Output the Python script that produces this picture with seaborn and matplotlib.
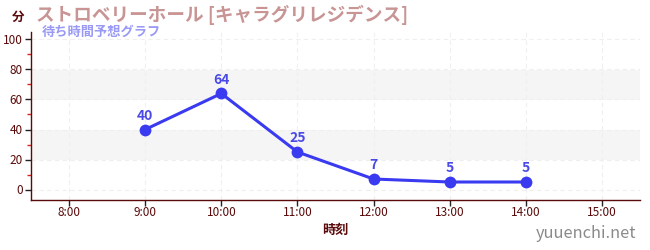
import matplotlib
matplotlib.use("Agg")
import matplotlib.pyplot as plt
import seaborn as sns
import pandas as pd
from matplotlib.ticker import MultipleLocator

hours = [9, 10, 11, 12, 13, 14]
waits = [40, 64, 25, 7, 5, 5]
xtick_hours = [8, 9, 10, 11, 12, 13, 14, 15]
xtick_labels = ["8:00", "9:00", "10:00", "11:00", "12:00", "13:00", "14:00", "15:00"]
yticks = [0, 20, 40, 60, 80, 100]
title = "ストロベリーホール [キャラグリレジデンス]"
subtitle = "待ち時間予想グラフ"

sns.set_theme(style="white")
plt.rcParams['font.family'] = ['Noto Sans CJK JP', 'DejaVu Sans']

df = pd.DataFrame({"hour": hours, "wait": waits})

fig = plt.figure(figsize=(6.5, 2.5), dpi=100)
ax = fig.add_axes([31/650, 50/250, 609/650, 168/250])

axc = "#5a0a0a"
line_c = "#3a3af0"

for lo, hi in [(20, 40), (60, 80)]:
    ax.axhspan(lo, hi, color="#f5f5f5", zorder=0, lw=0)

sns.lineplot(data=df, x="hour", y="wait", ax=ax, color=line_c, lw=2.2,
             marker="o", markersize=8.5, markeredgewidth=0, zorder=3)
for h, w in zip(hours, waits):
    ax.annotate(str(w), (h, w), xytext=(0, 5), textcoords="offset points",
                ha="center", va="bottom", color="#4a4ae8", fontsize=10, fontweight="bold")

ax.set_xlim(7.5, 15.5)
ax.set_ylim(-7, 105)
ax.set_xticks(xtick_hours)
ax.set_xticklabels(xtick_labels)
ax.set_yticks(yticks)
ax.yaxis.set_minor_locator(MultipleLocator(10))
ax.grid(True, which="major", color="#efefef", ls=(0, (4, 3)), lw=0.8)
ax.set_axisbelow(True)

for s in ["top", "right"]:
    ax.spines[s].set_visible(False)
for s in ["left", "bottom"]:
    ax.spines[s].set_color(axc)
    ax.spines[s].set_linewidth(1)
ax.tick_params(axis="both", which="major", length=4, width=1, color="#222222",
               labelsize=8.5, labelcolor=axc, pad=2)
ax.tick_params(axis="x", which="major", pad=0)
ax.tick_params(axis="y", which="minor", length=3, width=1, color="#e02020", left=True)
ax.tick_params(axis="x", which="major", bottom=True)
ax.tick_params(axis="y", which="major", left=True)
ax.set_xlabel("時刻", fontsize=9.5, color=axc, fontweight="bold", labelpad=3)
ax.set_ylabel("")

fig.text(12/650, 1 - 17/250, "分", fontsize=9, color=axc, fontweight="bold", va="center")
fig.text(36/650, 1 - 15/250, title, fontsize=13.4, color="#c89494", fontweight="bold", va="center")
fig.text(42/650, 1 - 32/250, subtitle, fontsize=9.5, color="#9a9af5", fontweight="bold", va="center")
fig.text(636/650, 1 - 234/250, "yuuenchi.net", fontsize=11.8, color="#8a8a8a", ha="right", va="center")

fig.savefig("out.png", dpi=100)
